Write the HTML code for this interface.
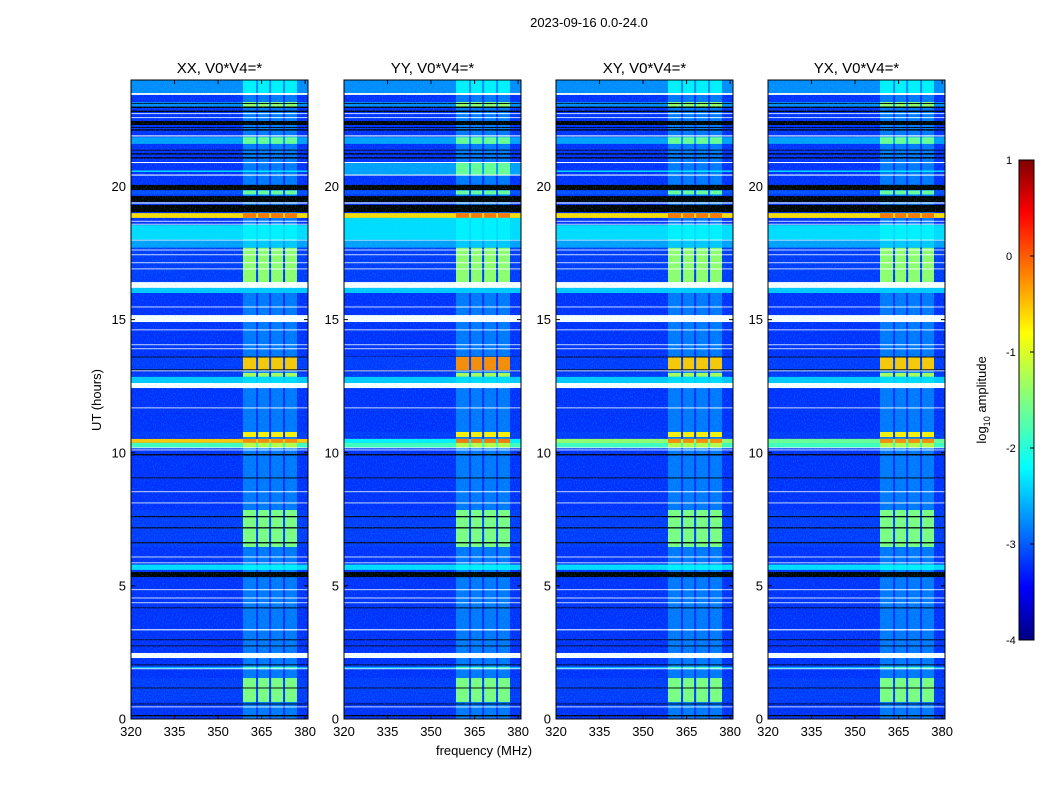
<!DOCTYPE html>
<html><head><meta charset="utf-8">
<style>
body{margin:0;background:#fff;font-family:"Liberation Sans",sans-serif}
svg text{font-family:"Liberation Sans",sans-serif;fill:#000}
</style></head>
<body>
<svg id="fig" width="1050" height="800" xmlns="http://www.w3.org/2000/svg">
<defs>
<linearGradient id="jet" x1="0" y1="1" x2="0" y2="0">
<stop offset="0" stop-color="#000080"/><stop offset="0.11" stop-color="#0000ff"/>
<stop offset="0.36" stop-color="#00ffff"/><stop offset="0.5" stop-color="#80ff80"/>
<stop offset="0.64" stop-color="#ffff00"/><stop offset="0.89" stop-color="#ff0000"/>
<stop offset="1" stop-color="#800000"/></linearGradient>
<filter id="noise" x="0" y="0" width="1" height="1" filterUnits="objectBoundingBox"><feTurbulence type="fractalNoise" baseFrequency="0.9 0.6" numOctaves="1" seed="3"/><feColorMatrix values="0 0 0 0 0  0 0 0 0 1  0 0 0 0 1  0 0 0 1.6 -0.7"/></filter>
</defs>
<text x="589" y="27" font-size="13" text-anchor="middle">2023-09-16 0.0-24.0</text>
<g id="panels"></g>
<g>
<rect x="1019" y="160" width="15" height="480" fill="url(#jet)" stroke="#000" stroke-width="1"/>
<g id="cbticks"></g>
<text transform="translate(986,400) rotate(-90)" font-size="13" text-anchor="middle">log<tspan font-size="9" dy="4">10</tspan><tspan dy="-4"> amplitude</tspan></text>
</g>
<text transform="translate(101,400) rotate(-90)" font-size="13" text-anchor="middle">UT (hours)</text>
<text x="484" y="755" font-size="13" text-anchor="middle">frequency (MHz)</text>
</svg>
<script>
const panelNames = ["XX, V0*V4=*","YY, V0*V4=*","XY, V0*V4=*","YX, V0*V4=*"];
const xTicks = [320,335,350,365,380];
const yTicks = [0,5,10,15,20];
const cbTicks = [1,0,-1,-2,-3,-4];
const rfiBands = [[358.6,363.1],[363.8,367.6],[368.3,372.4],[373.1,377.2]];
const baseBg = -3.15, baseRfi = -2.8;
// [tStart, tEnd, background log-amp, rfi log-amp]; null = gap (white), -9 = zero (black)
const features = [
[23.51,24,-2.7,-2.2],[23.44,23.51,null,null],[23.0,23.17,-2.7,-1.4],
[22.8,22.85,-9,-9],[22.95,23.0,-9,-9],[23.1,23.13,-9,-9],
[22.72,22.75,null,null],[22.57,22.6,null,null],[22.31,22.46,-9,-9],
[22.1,22.15,-9,-9],[22.2,22.23,-9,-9],[21.88,21.92,null,null],[21.6,21.85,-2.6,-1.6],
[21.2,21.25,-9,-9],[21.05,21.1,-9,-9],[21.35,21.38,-9,-9],[20.88,20.92,null,null],
[20.55,20.6,-2.2,-2.2],[20.41,20.45,null,null],[19.87,20.06,-9,-9],[19.7,19.85,-3.0,-1.6],
[19.42,19.64,-9,-9],[19.36,19.40,null,null],[19.04,19.31,-9,-9],[18.82,19.0,-0.7,-0.2],
[18.68,18.71,null,null],[18.57,18.6,null,null],[18.0,18.55,-2.3,-2.2],[17.97,18.0,null,null],
[17.7,17.97,-2.6,-2.4],[16.41,17.7,-3.1,-1.4],[17.6,17.63,null,null],[17.42,17.45,null,null],
[17.12,17.15,null,null],[16.89,16.92,null,null],[16.19,16.41,null,null],[16.0,16.19,-2.4,-2.4],
[15.46,15.49,null,null],[14.91,15.17,null,null],[14.6,14.63,null,null],[14.04,14.07,null,null],
[13.89,13.92,null,null],[13.11,13.6,-3.1,-0.6],[13.58,13.61,-9,-9],[13.1,13.13,-9,-9],
[13.06,13.09,null,null],[12.85,13.0,-3.1,-1.3],[12.62,12.85,-2.4,-2.3],[12.43,12.62,null,null],
[11.67,11.7,null,null],[10.59,10.78,-3.1,-0.8],[10.37,10.52,-0.6,-0.3],[10.2,10.37,-1.8,-1.2],
[10.17,10.2,null,null],[10.09,10.12,null,null],[9.9,9.95,-9,-9],[9.04,9.07,-9,-9],
[8.52,8.55,null,null],[8.1,8.13,null,null],[6.46,7.85,-3.1,-1.5],[7.58,7.62,-9,-9],
[7.16,7.2,-9,-9],[6.6,6.64,-9,-9],[6.07,6.1,null,null],[5.85,5.88,null,null],
[5.6,5.8,-2.3,-2.2],[5.33,5.52,-9,-9],[4.84,4.87,null,null],[4.53,4.56,null,null],
[4.35,4.38,null,null],[4.16,4.19,-9,-9],[3.33,3.37,null,null],[2.96,2.99,-9,-9],
[2.73,2.76,-9,-9],[2.29,2.48,null,null],[2.02,2.05,-9,-9],[1.9,1.96,-2.5,-1.8],
[1.87,1.9,null,null],[0.64,1.54,-3.1,-1.5],[1.15,1.18,-9,-9],[0.55,0.58,-9,-9],
[0.44,0.47,null,null],[0.1,0.15,-9,-9]
];
const overridesYY = [[18.0,18.82,-2.3,-2.2],[10.37,10.52,-2.2,-0.2],[13.11,13.6,-3.1,-0.3],[20.45,20.88,-2.6,-1.6]];
const overridesXY = [[10.37,10.52,-1.4,-0.3]];
const overridesYX = [[10.37,10.52,-1.6,-0.3]];
const panelOverrides = [[],overridesYY,overridesXY,overridesYX];
const panelLeft = [131,344,556,768];
const panelW = 177, plotTop = 80, plotBottom = 719, fMin = 320, fMax = 381, tMin = 0, tMax = 24;
const NS = "http://www.w3.org/2000/svg";
function jet(v){
  const t=Math.max(0,Math.min(1,(v+4)/5));
  const f=(a)=>Math.max(0,Math.min(1,1.5-Math.abs(4*t-a)));
  return `rgb(${Math.round(255*f(3))},${Math.round(255*f(2))},${Math.round(255*f(1))})`;
}
function color(v){ if(v===null) return "#fff"; if(v<=-8) return "#000"; return jet(v); }
function mk(tag,attrs,parent){const e=document.createElementNS(NS,tag);for(const k in attrs)e.setAttribute(k,attrs[k]);parent.appendChild(e);return e;}
const root=document.getElementById("panels");
panelNames.forEach((name,pi)=>{
  const x0=panelLeft[pi];
  const xs=f=>x0+(f-fMin)/(fMax-fMin)*panelW;
  const ys=t=>plotBottom-(t-tMin)/(tMax-tMin)*(plotBottom-plotTop);
  const g=mk("g",{},root);
  
  
  const rows=[[tMin,tMax,baseBg,baseRfi]].concat(features,panelOverrides[pi]);
  rows.forEach(r=>{
    const y1=ys(r[1]), y0=ys(r[0]);
    const bg=mk("rect",{x:x0,y:y1,width:panelW,height:Math.max(0.8,y0-y1),fill:color(r[2])},g);
    
    
    rfiBands.forEach(b=>{
      const c=mk("rect",{x:xs(b[0]),y:y1,width:xs(b[1])-xs(b[0]),height:Math.max(0.8,y0-y1),fill:color(r[3])},g);
      
      
    });
  });
  mk("rect",{x:x0,y:plotTop,width:panelW,height:plotBottom-plotTop,filter:"url(#noise)",opacity:0.35},g);
  const fr=mk("rect",{x:x0,y:plotTop,width:panelW,height:plotBottom-plotTop,fill:"none",stroke:"#000","stroke-width":1},g);
  
  
  const tt=mk("text",{x:x0+panelW/2,y:73,"font-size":15,"text-anchor":"middle"},g);
  tt.textContent=name;
  
  
  xTicks.forEach(v=>{
    const x=xs(v);
    mk("line",{x1:x,x2:x,y1:plotBottom,y2:plotBottom-4,stroke:"#000"},g);
    mk("line",{x1:x,x2:x,y1:plotTop,y2:plotTop+4,stroke:"#000"},g);
    const t=mk("text",{x:x,y:plotBottom+17,"font-size":13,"text-anchor":"middle"},g);
    t.textContent=v;
    
    
  });
  yTicks.forEach(v=>{
    const y=ys(v);
    mk("line",{x1:x0,x2:x0+4,y1:y,y2:y,stroke:"#000"},g);
    mk("line",{x1:x0+panelW,x2:x0+panelW-4,y1:y,y2:y,stroke:"#000"},g);
    const t=mk("text",{x:x0-5,y:y+4.5,"font-size":13,"text-anchor":"end"},g);
    t.textContent=v;
    
    
  });
});
const cb=document.getElementById("cbticks");
cbTicks.forEach(v=>{
  const y=640-(v+4)/5*480;
  mk("line",{x1:1034,x2:1030,y1:y,y2:y,stroke:"#000"},cb);
  const t=mk("text",{x:1006,y:y+4,"font-size":11},cb);
  t.textContent=v<0?"-"+(-v):v;
  
  
});
</script>
</body></html>
